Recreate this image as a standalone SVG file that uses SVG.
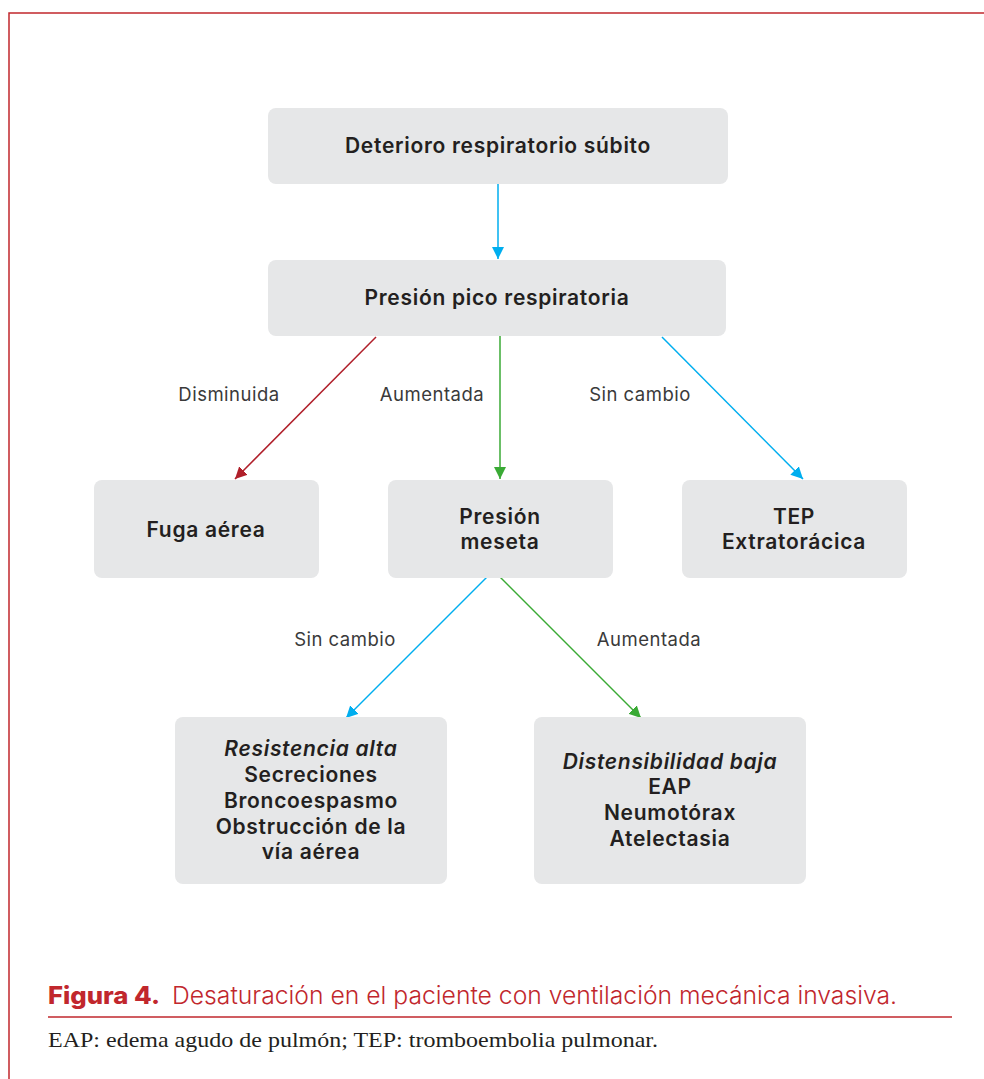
<svg xmlns="http://www.w3.org/2000/svg" width="984" height="1079" viewBox="0 0 984 1079">
<style>
.box{fill:#e6e7e8}
.nt{font-family:Inter,"Open Sans",sans-serif;font-weight:600;font-size:21px;letter-spacing:0.7px;fill:#231f20;text-anchor:middle}
.it{font-style:italic}
.lbl{font-family:Inter,"Open Sans",sans-serif;font-size:18.5px;letter-spacing:0.5px;fill:#3a3a3a;text-anchor:middle}
.blue{stroke:#00aeef;stroke-width:1.5;fill:none}
.red{stroke:#b01f2a;stroke-width:1.5;fill:none}
.green{stroke:#3aaa35;stroke-width:1.5;fill:none}
.frame{stroke:#c1272d;stroke-width:1.5;fill:none}
</style>
<defs>
<marker id="mb" viewBox="0 0 10 10" refX="10" refY="5" markerWidth="12" markerHeight="12" markerUnits="userSpaceOnUse" orient="auto"><path d="M0,0L10,5L0,10z" fill="#00aeef"/></marker>
<marker id="mr" viewBox="0 0 10 10" refX="10" refY="5" markerWidth="12" markerHeight="12" markerUnits="userSpaceOnUse" orient="auto"><path d="M0,0L10,5L0,10z" fill="#b01f2a"/></marker>
<marker id="mg" viewBox="0 0 10 10" refX="10" refY="5" markerWidth="12" markerHeight="12" markerUnits="userSpaceOnUse" orient="auto"><path d="M0,0L10,5L0,10z" fill="#3aaa35"/></marker>
</defs>
<rect width="984" height="1079" fill="#ffffff"/>
<path class="frame" d="M9,1079V13H984"/>

<g id="connectors">
<line class="blue" x1="498" y1="184" x2="498" y2="259" marker-end="url(#mb)"/>
<line class="red" x1="376" y1="337" x2="235" y2="479" marker-end="url(#mr)"/>
<line class="green" x1="500" y1="336" x2="500" y2="479" marker-end="url(#mg)"/>
<line class="blue" x1="662" y1="337" x2="803" y2="479" marker-end="url(#mb)"/>
<line class="blue" x1="487" y1="577" x2="346" y2="718" marker-end="url(#mb)"/>
<line class="green" x1="500" y1="577" x2="641" y2="718" marker-end="url(#mg)"/>
<text class="lbl" x="229" y="401">Disminuida</text>
<text class="lbl" x="432" y="401">Aumentada</text>
<text class="lbl" x="640" y="401">Sin cambio</text>
<text class="lbl" x="345" y="646">Sin cambio</text>
<text class="lbl" x="649" y="646">Aumentada</text>
</g>

<g id="n1"><rect class="box" x="268" y="108" width="460" height="76" rx="8"/>
<text class="nt" x="498" y="153">Deterioro respiratorio súbito</text></g>
<g id="n2"><rect class="box" x="268" y="260" width="458" height="76" rx="8"/>
<text class="nt" x="497" y="305">Presión pico respiratoria</text></g>
<g id="n3"><rect class="box" x="94" y="480" width="225" height="98" rx="8"/>
<text class="nt" x="206" y="537">Fuga aérea</text></g>
<g id="n4"><rect class="box" x="388" y="480" width="225" height="98" rx="8"/>
<text class="nt" x="500" y="524">Presión</text><text class="nt" x="500" y="549">meseta</text></g>
<g id="n5"><rect class="box" x="682" y="480" width="225" height="98" rx="8"/>
<text class="nt" x="794" y="524">TEP</text><text class="nt" x="794" y="549">Extratorácica</text></g>
<g id="n6"><rect class="box" x="175" y="717" width="272" height="167" rx="8"/>
<text class="nt it" x="311" y="756">Resistencia alta</text>
<text class="nt" x="311" y="782">Secreciones</text>
<text class="nt" x="311" y="808">Broncoespasmo</text>
<text class="nt" x="311" y="834">Obstrucción de la</text>
<text class="nt" x="311" y="859">vía aérea</text></g>
<g id="n7"><rect class="box" x="534" y="717" width="272" height="167" rx="8"/>
<text class="nt it" x="670" y="769">Distensibilidad baja</text>
<text class="nt" x="670" y="794">EAP</text>
<text class="nt" x="670" y="820">Neumotórax</text>
<text class="nt" x="670" y="846">Atelectasia</text></g>

<g id="caption">
<text x="48" y="1004" font-family="Inter,'Open Sans',sans-serif" font-size="24" fill="#c1272d"><tspan font-weight="800" textLength="112" lengthAdjust="spacingAndGlyphs">Figura 4.</tspan><tspan x="172" font-weight="300" textLength="725" lengthAdjust="spacingAndGlyphs">Desaturación en el paciente con ventilación mecánica invasiva.</tspan></text>
<line x1="48" y1="1017" x2="952" y2="1017" stroke="#c1272d" stroke-width="1.5"/>
<text x="48" y="1047" font-family="'Liberation Serif',serif" font-size="21" fill="#231f20" textLength="610" lengthAdjust="spacingAndGlyphs">EAP: edema agudo de pulmón; TEP: tromboembolia pulmonar.</text>
</g>
</svg>
